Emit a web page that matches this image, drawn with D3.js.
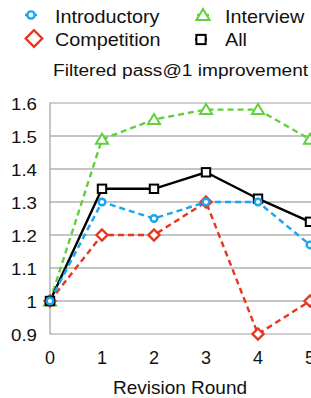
<!DOCTYPE html>
<html><head><meta charset="utf-8">
<script src="https://cdn.jsdelivr.net/npm/d3@7"></script>
<style>html,body{margin:0;padding:0;background:#fff;overflow:hidden}svg{display:block}</style>
</head><body>
<svg id="c" width="311" height="398"></svg>
<script>
const rounds = [0, 1, 2, 3, 4, 5];
const introductory = [1, 1.3, 1.25, 1.3, 1.3, 1.17];
const competition = [1, 1.2, 1.2, 1.3, 0.9, 1.0];
const interview = [1, 1.49, 1.55, 1.58, 1.58, 1.49];
const all = [1, 1.34, 1.34, 1.39, 1.31, 1.24];
const yTicks = [0.9, 1, 1.1, 1.2, 1.3, 1.4, 1.5, 1.6];
const yTickLabels = ["0.9", "1", "1.1", "1.2", "1.3", "1.4", "1.5", "1.6"];
const xTickLabels = ["0", "1", "2", "3", "4", "5"];
const seriesNames = ["Introductory", "Competition", "Interview", "All"];
const subtitle = "Filtered pass@1 improvement";
const xTitle = "Revision Round";

const font = "'Liberation Sans', Arial, Helvetica, sans-serif";
const svg = d3.select("#c");
const x = d3.scaleLinear().domain([0, 5]).range([50, 310]);
const y = d3.scaleLinear().domain([0.9, 1.6]).range([334, 103]);

// gridlines
svg.append("g").selectAll("line").data(yTicks.filter(v => v > 0.95 && v < 1.55)).join("line")
  .attr("x1", x(0)).attr("x2", 312).attr("y1", d => y(d)).attr("y2", d => y(d))
  .attr("stroke", "#c4c4c4").attr("stroke-width", 2.2);
// frame
svg.append("path").attr("d", `M312,${y(1.6)}H${x(0)}V${y(0.9)}H312`)
  .attr("fill", "none").attr("stroke", "#a0a0a0").attr("stroke-width", 1.2);

// y tick labels
svg.append("g").selectAll("text").data(yTicks).join("text")
  .attr("transform", (d) => `translate(37,${y(d) + 6.5}) scale(1.1,1)`)
  .attr("text-anchor", "end").attr("font-family", font).attr("font-size", 17).attr("fill", "#111")
  .text((d, i) => yTickLabels[i]);
// x tick labels
svg.append("g").selectAll("text").data(rounds).join("text")
  .attr("x", d => x(d)).attr("y", 364)
  .attr("text-anchor", "middle").attr("font-family", font).attr("font-size", 18).attr("fill", "#111")
  .text((d, i) => xTickLabels[i]);
svg.append("text").attr("x", 180).attr("y", 394).attr("text-anchor", "middle")
  .attr("font-family", font).attr("font-size", 19).attr("fill", "#111").text(xTitle);

const series = [
  {name: seriesNames[2], vals: interview, color: "#62cf3c", dash: "6,4", marker: "tri"},
  {name: seriesNames[1], vals: competition, color: "#e8351d", dash: "6,4", marker: "dia"},
  {name: seriesNames[3], vals: all, color: "#000000", dash: null, marker: "sq"},
  {name: seriesNames[0], vals: introductory, color: "#17a6ef", dash: "6,4", marker: "circ"}
];

function marker(g, type, cx, cy, color, s) {
  s = s || 1;
  if (type === "circ") g.append("circle").attr("cx", cx).attr("cy", cy).attr("r", 3.3 * s)
    .attr("fill", "#fff").attr("stroke", color).attr("stroke-width", 2.4);
  else if (type === "dia") g.append("path")
    .attr("d", `M${cx},${cy - 5.5 * s}L${cx + 5.5 * s},${cy}L${cx},${cy + 5.5 * s}L${cx - 5.5 * s},${cy}Z`)
    .attr("fill", "#fff").attr("stroke", color).attr("stroke-width", 2.4);
  else if (type === "tri") g.append("path")
    .attr("d", `M${cx},${cy - 5.5 * s}L${cx + 6 * s},${cy + 4.5 * s}L${cx - 6 * s},${cy + 4.5 * s}Z`)
    .attr("fill", "#fff").attr("stroke", color).attr("stroke-width", 2);
  else if (type === "sq") g.append("rect").attr("x", cx - 4.2 * s).attr("y", cy - 4.2 * s)
    .attr("width", 8.4 * s).attr("height", 8.4 * s)
    .attr("fill", "#fff").attr("stroke", color).attr("stroke-width", 2);
}

const line = d3.line().x((d, i) => x(rounds[i])).y(d => y(d));
series.forEach(s => {
  svg.append("path").datum(s.vals).attr("d", line).attr("fill", "none")
    .attr("stroke", s.color).attr("stroke-width", 2.4)
    .attr("stroke-dasharray", s.dash);
});
series.forEach(s => {
  const g = svg.append("g");
  s.vals.forEach((v, i) => marker(g, s.marker, x(rounds[i]), y(v), s.color));
});

// legend
const leg = [
  {s: series[3], x: 31, y: 15, tx: 55, ty: 23},
  {s: series[1], x: 34, y: 38.5, tx: 55, ty: 46},
  {s: series[0], x: 203, y: 15, tx: 225, ty: 23},
  {s: series[2], x: 201, y: 39.5, tx: 225, ty: 46}
];
leg.forEach(l => {
  const g = svg.append("g");
  g.append("line").attr("x1", l.x - 6).attr("x2", l.x + 6).attr("y1", l.y).attr("y2", l.y)
    .attr("stroke", l.s.color).attr("stroke-width", 2.4);
  marker(g, l.s.marker, l.x, l.y, l.s.color, l.s.marker === "dia" ? 1.5 : 1.1);
  g.append("text").attr("transform", `translate(${l.tx},${l.ty}) scale(1.1,1)`)
    .attr("font-family", font).attr("font-size", 18).attr("fill", "#111").text(l.s.name);
});
svg.append("text").attr("transform", `translate(53,75.5) scale(1.125,1)`)
  .attr("font-family", font).attr("font-size", 17).attr("fill", "#111").text(subtitle);
</script>
</body></html>
